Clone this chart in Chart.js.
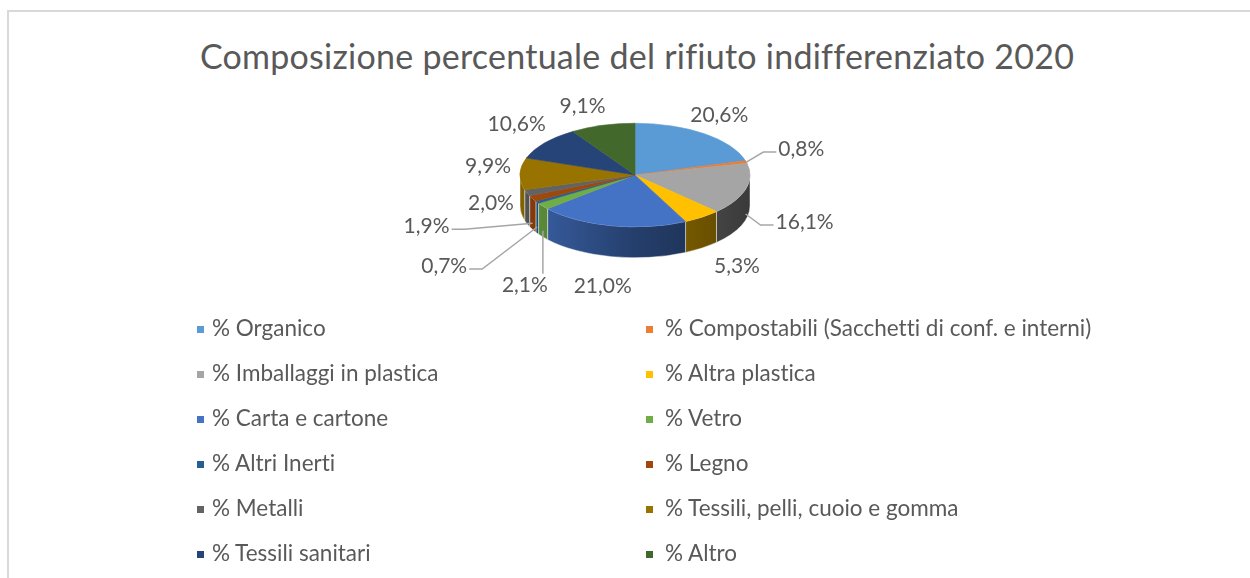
<!DOCTYPE html>
<html>
<head>
<meta charset="utf-8">
<script src="https://cdn.jsdelivr.net/npm/chart.js@4.4.0/dist/chart.umd.min.js"></script>
<style>
  body { margin: 0; background: #fff; font-family: Lato, sans-serif; font-variant-ligatures: none; }
  #wrap { position: relative; width: 1250px; height: 578px; overflow: hidden; }
  #frame { position: absolute; left: 7px; top: 10px; width: 1400px; height: 800px; border: 2px solid #d9d9d9; }
  #title { position: absolute; left: 0; top: 36px; width: 1274px; text-align: center;
           font-size: 34px; line-height: 40px; letter-spacing: 0.25px; color: #595959; white-space: nowrap; }
  #chart { position: absolute; left: 0; top: 0; }
  .lg-box { position: absolute; width: 7px; height: 7px; }
  .lg-text { position: absolute; font-size: 22.5px; line-height: 28px; color: #595959; white-space: nowrap; }
</style>
</head>
<body>
<div id="wrap">
  <div id="frame"></div>
  <div id="title">Composizione percentuale del rifiuto indifferenziato 2020</div>
  <canvas id="chart" width="1250" height="578"></canvas>
  <div id="legend"></div>
</div>
<script>
// ===== Data =====
const categories = [
  '% Organico',
  '% Compostabili (Sacchetti di conf. e interni)',
  '% Imballaggi in plastica',
  '% Altra plastica',
  '% Carta e cartone',
  '% Vetro',
  '% Altri Inerti',
  '% Legno',
  '% Metalli',
  '% Tessili, pelli, cuoio e gomma',
  '% Tessili sanitari',
  '% Altro'
];
const values = [20.6, 0.8, 16.1, 5.3, 21.0, 2.1, 0.7, 1.9, 2.0, 9.9, 10.6, 9.1];
const colors = ['#5B9BD5', '#ED7D31', '#A5A5A5', '#FFC000', '#4472C4', '#70AD47',
                '#255E91', '#9E480E', '#636363', '#997300', '#264478', '#43682B'];

// ===== Label placement (offset from slice edge) =====
const labelOffsets = [
  [15, -18], [55, -13], [59, 8], [35, 24], [-9, 36], [-18, 54],
  [-93, 39], [-106, 3], [-36, -14], [-32, -8], [-28, -19], [-20, -19]
];
const withLeader = [false, true, true, false, false, true, true, true, false, false, false, false];

const TILT = 0.45;
const DEPTH = 31;

function shade(hex, f) {
  let n = parseInt(hex.slice(1), 16);
  let r = Math.round(((n >> 16) & 255) * f);
  let g = Math.round(((n >> 8) & 255) * f);
  let b = Math.round((n & 255) * f);
  return 'rgb(' + r + ',' + g + ',' + b + ')';
}

function fmt(v) {
  return v.toFixed(1).replace('.', ',') + '%';
}

// ===== 3D pie drawing =====
const pie3d = {
  id: 'pie3d',
  beforeDatasetsDraw(chart) {
    const ctx = chart.ctx;
    const arcs = chart.getDatasetMeta(0).data;
    const cx = arcs[0].x, cy = arcs[0].y;
    const rx = arcs[0].outerRadius, ry = rx * TILT;

    ctx.save();
    // side walls (front half only)
    arcs.forEach((arc, i) => {
      let s = Math.max(arc.startAngle, 0);
      let e = Math.min(arc.endAngle, Math.PI);
      if (s >= e) return;
      let grad = ctx.createLinearGradient(cx - rx, 0, cx + rx, 0);
      grad.addColorStop(0, shade(colors[i], 0.85));
      grad.addColorStop(0.5, shade(colors[i], 0.55));
      grad.addColorStop(1, shade(colors[i], 0.35));
      ctx.beginPath();
      ctx.ellipse(cx, cy, rx, ry, 0, s, e);
      ctx.lineTo(cx + rx * Math.cos(e), cy + ry * Math.sin(e) + DEPTH);
      ctx.ellipse(cx, cy + DEPTH, rx, ry, 0, e, s, true);
      ctx.closePath();
      ctx.fillStyle = grad;
      ctx.fill();
      ctx.strokeStyle = 'rgba(255,255,255,0.45)';
      ctx.lineWidth = 1;
      ctx.stroke();
    });
    // top faces
    arcs.forEach((arc, i) => {
      ctx.beginPath();
      ctx.moveTo(cx, cy);
      ctx.ellipse(cx, cy, rx, ry, 0, arc.startAngle, arc.endAngle);
      ctx.closePath();
      ctx.fillStyle = colors[i];
      ctx.fill();
      ctx.strokeStyle = colors[i];
      ctx.lineWidth = 0.6;
      ctx.stroke();
    });

    // data labels
    ctx.font = '21px Lato';
    ctx.fillStyle = '#595959';
    ctx.textAlign = 'center';
    ctx.textBaseline = 'middle';
    arcs.forEach((arc, i) => {
      let m = (arc.startAngle + arc.endAngle) / 2;
      let ax = cx + rx * Math.cos(m);
      let ay = cy + ry * Math.sin(m) + (Math.sin(m) > 0 ? DEPTH * 0.8 : 0);
      let lx = ax + labelOffsets[i][0];
      let ly = ay + labelOffsets[i][1];
      let txt = fmt(values[i]);
      let hw = ctx.measureText(txt).width / 2 + 2;
      if (withLeader[i]) {
        ctx.beginPath();
        ctx.strokeStyle = '#a6a6a6';
        ctx.lineWidth = 1.5;
        if (ax > lx + hw) {
          ctx.moveTo(lx + hw, ly + 3);
          ctx.lineTo(lx + hw + 13, ly + 3);
          ctx.lineTo(ax, ay);
        } else if (ax < lx - hw) {
          ctx.moveTo(lx - hw, ly + 3);
          ctx.lineTo(lx - hw - 13, ly + 3);
          ctx.lineTo(ax, ay);
        } else {
          ctx.moveTo(ax, ay);
          ctx.lineTo(ax, ly - 11);
        }
        ctx.stroke();
      }
      ctx.fillText(txt, lx, ly);
    });
    ctx.restore();
    return false;
  }
};

const ctx = document.getElementById('chart').getContext('2d');
const chart = new Chart(ctx, {
  type: 'pie',
  data: {
    labels: categories,
    datasets: [{
      data: values,
      backgroundColor: colors,
      borderWidth: 0
    }]
  },
  options: {
    responsive: false,
    animation: false,
    layout: { padding: { left: 520, right: 500, top: 60, bottom: 288 } },
    plugins: {
      legend: { display: false },
      tooltip: { enabled: false }
    }
  },
  plugins: [pie3d]
});

// ===== Legend (two columns) =====
const legend = document.getElementById('legend');
const boxX = [197, 646];
const textX = [212, 665];
categories.forEach((name, i) => {
  let col = i % 2, row = Math.floor(i / 2);
  let my = 329 + row * 45;
  let box = document.createElement('div');
  box.className = 'lg-box';
  box.style.left = boxX[col] + 'px';
  box.style.top = (my - 3.5) + 'px';
  box.style.background = colors[i];
  legend.appendChild(box);
  let t = document.createElement('div');
  t.className = 'lg-text';
  t.style.left = textX[col] + 'px';
  t.style.top = (my + 8 - 22.7) + 'px';
  t.textContent = name;
  legend.appendChild(t);
});
</script>
</body>
</html>
